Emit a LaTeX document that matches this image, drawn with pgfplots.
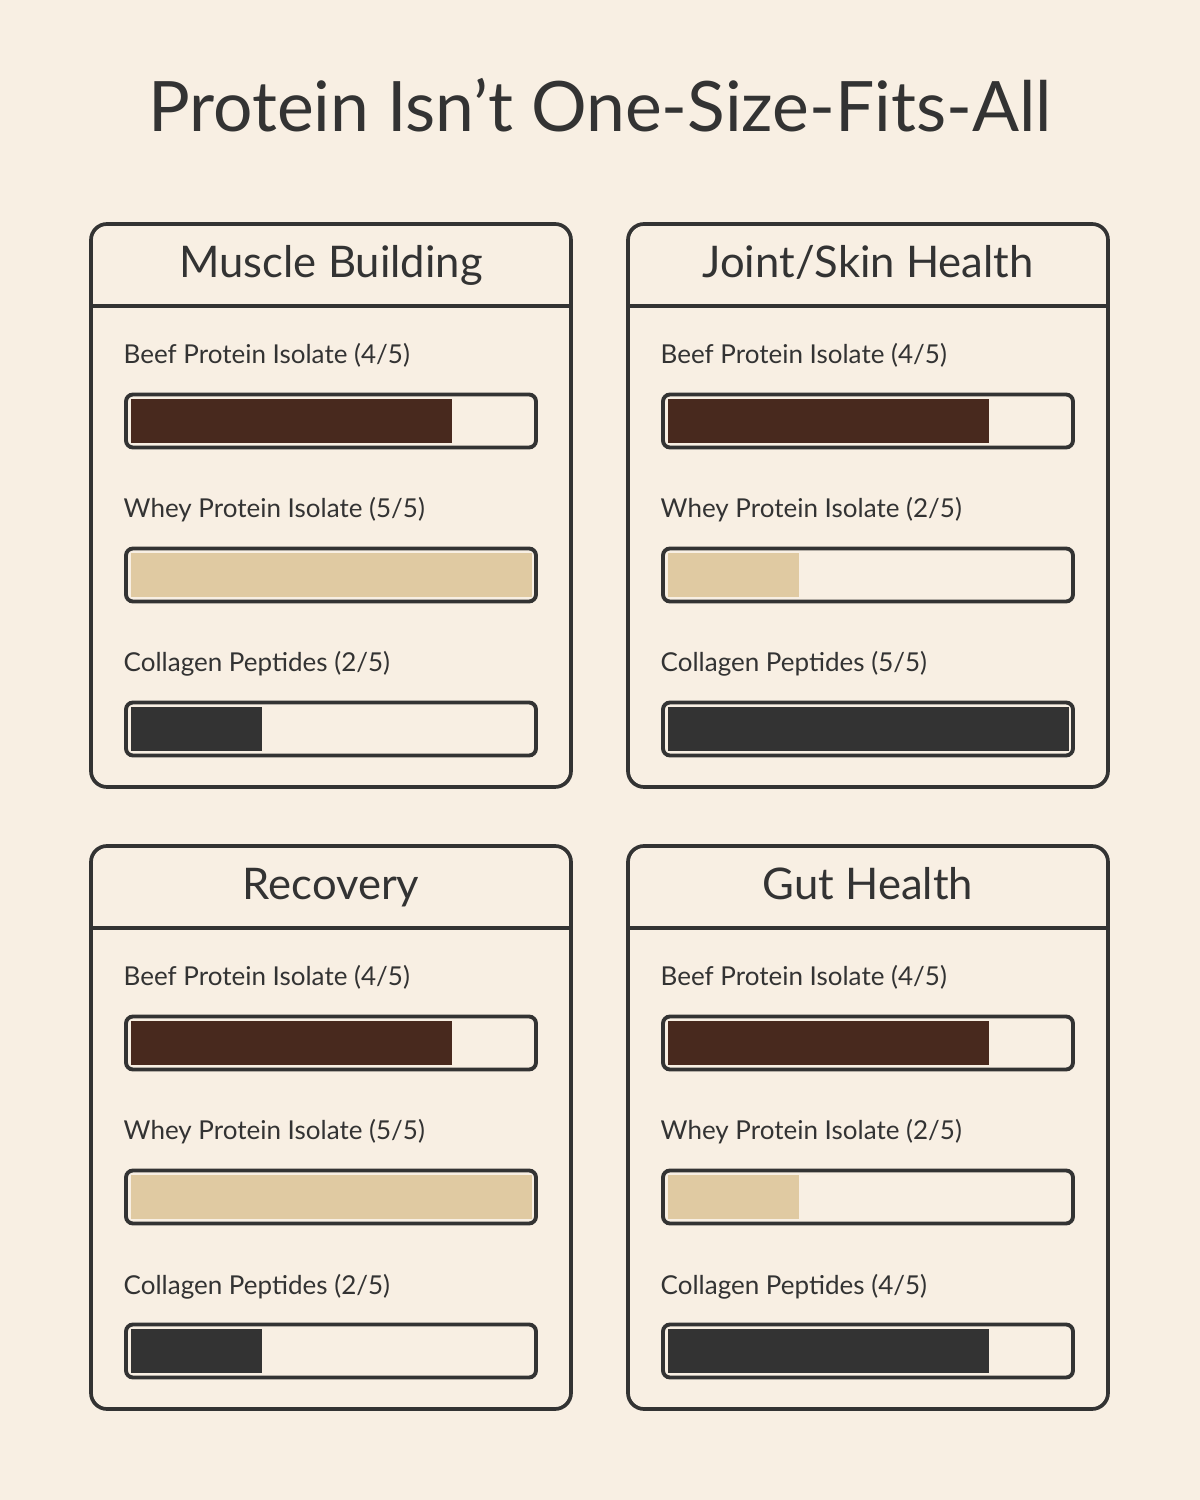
\documentclass[border=0pt]{standalone}
\usepackage{pgfplots}
\pgfplotsset{compat=1.18}
\usepackage{fontspec}
\setmainfont{Lato}
\definecolor{bg}{HTML}{F8EFE3}
\definecolor{ink}{HTML}{333333}
\definecolor{beef}{HTML}{48291E}
\definecolor{whey}{HTML}{E0CAA2}
\definecolor{coll}{HTML}{333333}

\pgfplotsset{panelaxis/.style={
  scale only axis, width=4.01cm, height=4.62cm,
  xmin=0, xmax=5, ymin=0.5, ymax=3.5,
  axis lines=none, xbar, bar width=0.44cm, clip=false,
  anchor=south west}}

% #1 dx, #2 dy, #3 title, #4 beef value, #5 beef label, #6 whey value, #7 whey label, #8 collagen value, #9 collagen label
\newcommand{\panel}[9]{%
  \begin{scope}[xshift=#1cm, yshift=-#2cm]
    \draw[ink, line width=1.05pt, rounded corners=0.16cm, fill=bg] (0.91,7.13) rectangle (5.71,12.76);
    \draw[ink, line width=1.05pt] (0.91,11.94) -- (5.71,11.94);
    \node[anchor=base, inner sep=0pt, text=ink, font=\fontsize{12.4}{14}\selectfont] at (3.31,12.22) {#3};
    \node[anchor=base west, inner sep=0pt, text=ink, font=\fontsize{7.4}{9}\selectfont] at (1.23,11.36) {Beef Protein Isolate (#5)};
    \node[anchor=base west, inner sep=0pt, text=ink, font=\fontsize{7.4}{9}\selectfont] at (1.23,9.82) {Whey Protein Isolate (#7)};
    \node[anchor=base west, inner sep=0pt, text=ink, font=\fontsize{7.4}{9}\selectfont] at (1.23,8.28) {Collagen Peptides (#9)};
    \draw[ink, line width=1.1pt, rounded corners=0.07cm] (1.26,10.525) rectangle (5.36,11.055);
    \draw[ink, line width=1.1pt, rounded corners=0.07cm] (1.26,8.985) rectangle (5.36,9.515);
    \draw[ink, line width=1.1pt, rounded corners=0.07cm] (1.26,7.445) rectangle (5.36,7.975);
  \end{scope}
  \begin{axis}[panelaxis, at={(\axx cm,\axy cm)}]
    \addplot[fill=beef, draw=none, bar shift=0pt] coordinates {(#4,3)};
    \addplot[fill=whey, draw=none, bar shift=0pt] coordinates {(#6,2)};
    \addplot[fill=coll, draw=none, bar shift=0pt] coordinates {(#8,1)};
  \end{axis}
}

\begin{document}
\begin{tikzpicture}
  \useasboundingbox (0,0) rectangle (12,15);
  \fill[bg] (0,0) rectangle (12,15);
  \node[anchor=base, inner sep=0pt, text=ink, font=\fontsize{19.8}{24}\selectfont] at (6,13.68) {Protein Isn’t One-Size-Fits-All};
  \def\axx{1.31}\def\axy{6.94}
  \panel{0}{0}{Muscle Building}{4}{4/5}{5}{5/5}{1.63}{2/5}
  \def\axx{6.68}\def\axy{6.94}
  \panel{5.37}{0}{Joint/Skin Health}{4}{4/5}{1.63}{2/5}{5}{5/5}
  \def\axx{1.31}\def\axy{0.72}
  \panel{0}{6.22}{Recovery}{4}{4/5}{5}{5/5}{1.63}{2/5}
  \def\axx{6.68}\def\axy{0.72}
  \panel{5.37}{6.22}{Gut Health}{4}{4/5}{1.63}{2/5}{4}{4/5}
\end{tikzpicture}
\end{document}
